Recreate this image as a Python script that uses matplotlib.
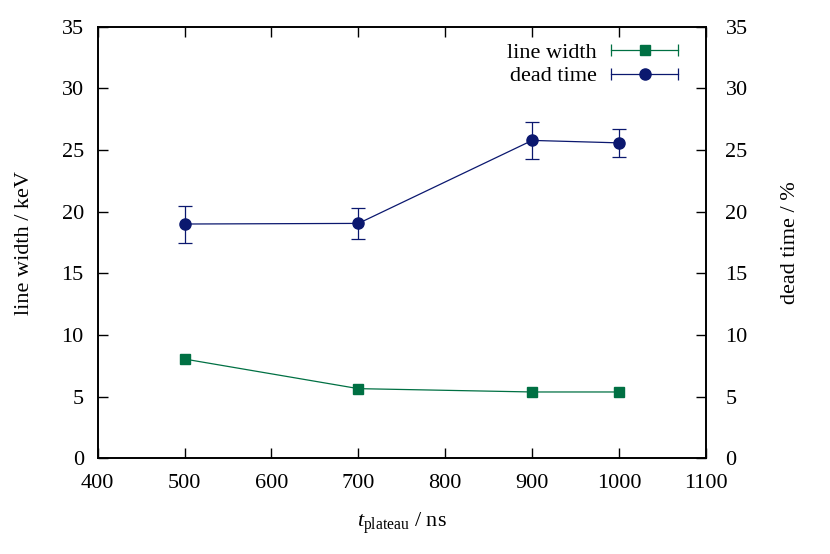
import matplotlib
matplotlib.use("Agg")
import matplotlib.pyplot as plt
from matplotlib.lines import Line2D
from matplotlib.legend_handler import HandlerLine2D

plt.rcParams['font.family'] = ['Liberation Serif', 'DejaVu Serif']
plt.rcParams['mathtext.fontset'] = 'custom'
plt.rcParams['mathtext.rm'] = 'Liberation Serif'
plt.rcParams['mathtext.it'] = 'Liberation Serif:italic'

t_plateau = [500, 700, 900, 1000]
line_width = [8.05, 5.65, 5.38, 5.38]
dead_time = [19.0, 19.05, 25.78, 25.58]
dead_time_err = [1.5, 1.25, 1.5, 1.15]

green = '#007043'
blue = '#0b186f'
FS = 16

fig = plt.figure(figsize=(8.3, 5.54), dpi=100)
ax = fig.add_axes([0.1177, 0.1727, 0.7329, 0.7791])
ax2 = ax.twinx()

ax.plot(t_plateau, line_width, color=green, lw=0.9, marker='s', ms=7.5,
        mec=green, mfc=green, zorder=3)
ax2.errorbar(t_plateau, dead_time, yerr=dead_time_err, color=blue, lw=0.9,
             marker='o', ms=8, capsize=5, elinewidth=0.9, capthick=0.9, zorder=3)

ax.set_xlim(400, 1100)
ax.set_ylim(0, 35)
ax2.set_ylim(0, 35)
ax.set_xticks(range(400, 1101, 100))
ax.set_yticks(range(0, 36, 5))
ax2.set_yticks(range(0, 36, 5))

for a in (ax, ax2):
    a.tick_params(direction='in', length=7, width=1, labelsize=FS)
    for s in a.spines.values():
        s.set_linewidth(1.2)
ax.tick_params(top=True, right=False)
ax.tick_params(axis='y', pad=10)
ax.tick_params(axis='x', pad=11)
ax2.tick_params(pad=14)

ax.set_xlabel(r'$t_{\mathrm{plateau}}$ / ns', fontsize=FS, labelpad=13)
ax.set_ylabel('line width / keV', fontsize=FS, labelpad=20)
ax2.set_ylabel('dead time / %', fontsize=FS, labelpad=24)

# legend handles: horizontal line with end caps plus marker
cap_g = Line2D([], [], color=green, lw=0.9, marker='|', ms=9, mew=0.9)
mk_g = Line2D([], [], color=green, ls='none', marker='s', ms=7.5)
cap_b = Line2D([], [], color=blue, lw=0.9, marker='|', ms=9, mew=0.9)
mk_b = Line2D([], [], color=blue, ls='none', marker='o', ms=8)
hm = {cap_g: HandlerLine2D(numpoints=2), cap_b: HandlerLine2D(numpoints=2),
      mk_g: HandlerLine2D(numpoints=1), mk_b: HandlerLine2D(numpoints=1)}
ax2.legend([(cap_g, mk_g), (cap_b, mk_b)], ['line width', 'dead time'],
           handler_map=hm, loc='upper right', bbox_to_anchor=(0.985, 0.993),
           frameon=False, markerfirst=False, fontsize=FS, handlelength=3.6,
           handletextpad=0.35, labelspacing=0.15, borderaxespad=0.15)

fig.savefig('out.png', dpi=100)
